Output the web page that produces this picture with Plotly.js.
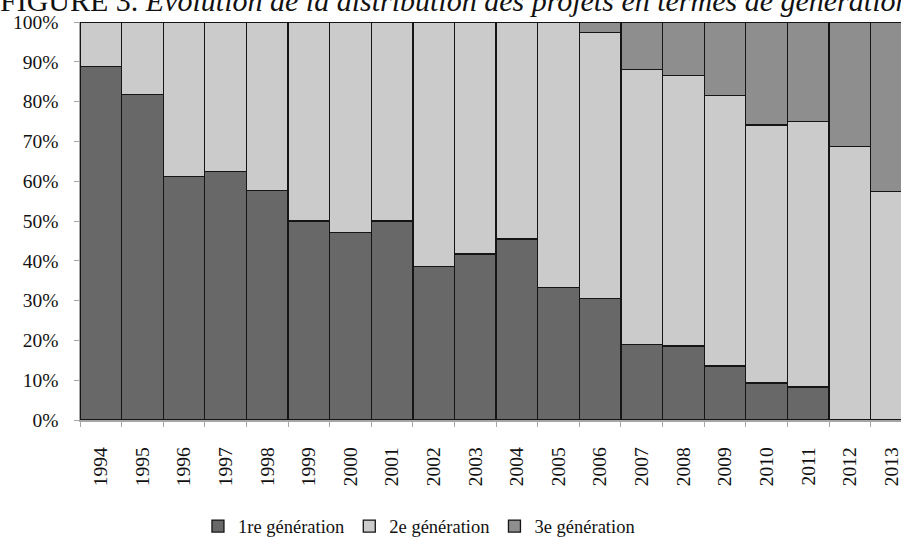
<!DOCTYPE html>
<html>
<head>
<meta charset="utf-8">
<script src="https://cdn.plot.ly/plotly-3.0.1.min.js"></script>
<style>html,body{margin:0;padding:0;background:#fff}#chart{width:901px;height:540px}</style>
</head>
<body>
<div id="chart"></div>
<script>
const years = ['1994','1995','1996','1997','1998','1999','2000','2001','2002','2003','2004','2005','2006','2007','2008','2009','2010','2011','2012','2013'];
const gen1 = [88.9, 81.8, 61.1, 62.5, 57.7, 50.0, 47.1, 50.0, 38.5, 41.7, 45.5, 33.3, 30.6, 19.0, 18.6, 13.6, 9.3, 8.3, 0, 0];
const gen2 = [11.1, 18.2, 38.9, 37.5, 42.3, 50.0, 52.9, 50.0, 61.5, 58.3, 54.5, 66.7, 66.7, 69.1, 67.9, 67.9, 64.8, 66.7, 68.8, 57.4];
const gen3 = [0, 0, 0, 0, 0, 0, 0, 0, 0, 0, 0, 0, 2.7, 11.9, 13.5, 18.5, 25.9, 25.0, 31.2, 42.6];
const seriesNames = ['1re génération', '2e génération', '3e génération'];
const seriesColors = ['#686868', '#cbcbcb', '#8e8e8e'];
const yTickVals = [0,10,20,30,40,50,60,70,80,90,100];
const yTickText = ['0%','10%','20%','30%','40%','50%','60%','70%','80%','90%','100%'];
const titleText = 'FIGURE 3. <i>Évolution de la distribution des projets en termes de génération</i>';

const font = 'Liberation Serif, Times New Roman, serif';
const data = [gen1, gen2, gen3].map((vals, i) => ({
  type: 'bar',
  name: seriesNames[i],
  x: years,
  y: vals,
  marker: {color: seriesColors[i], line: {color: '#151515', width: 1.3}},
  hoverinfo: 'skip'
}));

const layout = {
  width: 901, height: 540,
  barmode: 'stack',
  bargap: 0,
  paper_bgcolor: '#fff', plot_bgcolor: '#fff',
  margin: {l: 80, r: 0, t: 22, b: 120},
  font: {family: font, color: '#111', size: 19},
  title: {
    text: titleText,
    font: {family: font, size: 30, color: '#111'},
    xref: 'container', x: 0, xanchor: 'left',
    yref: 'container', y: 1, yanchor: 'middle'
  },
  xaxis: {
    type: 'category',
    range: [-0.5, 19.23],
    tickangle: -90,
    ticks: 'outside', ticklen: 5, tickcolor: '#a6a6a6', tickwidth: 1,
    tickson: 'boundaries',
    showline: true, linecolor: '#a6a6a6', linewidth: 1.5,
    showgrid: false, zeroline: false,
    ticklabelstandoff: 18,
    tickfont: {family: font, size: 19.5, color: '#111'},
    fixedrange: true
  },
  yaxis: {
    range: [0, 100],
    tickvals: yTickVals, ticktext: yTickText,
    ticks: 'outside', ticklen: 5, tickcolor: '#a6a6a6', tickwidth: 1,
    showline: true, linecolor: '#a6a6a6', linewidth: 1.5,
    showgrid: false, zeroline: false,
    ticklabelstandoff: 11,
    tickfont: {family: font, size: 19.5, color: '#111'},
    fixedrange: true
  },
  showlegend: true,
  legend: {
    orientation: 'h',
    xref: 'container', x: 0.465, xanchor: 'center',
    yref: 'container', y: 0.025, yanchor: 'middle',
    itemwidth: 30,
    font: {family: font, size: 18.5, color: '#111'},
    traceorder: 'normal'
  }
};

Plotly.newPlot('chart', data, layout, {staticPlot: true});
</script>
</body>
</html>
